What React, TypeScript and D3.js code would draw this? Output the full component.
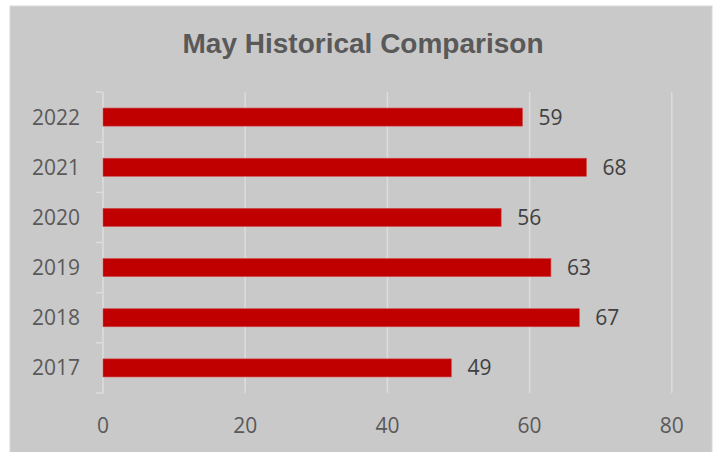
import React from "react";
import * as d3 from "d3";

const categories = ["2022", "2021", "2020", "2019", "2018", "2017"];
const values = [59, 68, 56, 63, 67, 49];
const xTicks = [0, 20, 40, 60, 80];
const title = "May Historical Comparison";

export default function App() {
  const W = 715, H = 452;
  const left = 103, right = 671.8, top = 92, bottom = 393;
  const x = d3.scaleLinear().domain([0, 80]).range([left, right]);
  const y = d3.scaleBand<string>().domain(categories).range([top, bottom]).paddingInner(0.64).paddingOuter(0.32);
  const step = (bottom - top) / categories.length;
  const bounds = d3.range(categories.length + 1).map((i) => top + i * step);
  const font = "'Open Sans', 'Noto Sans', sans-serif";
  return (
    <svg width={W} height={H} style={{ position: "absolute", left: 0, top: 0, display: "block" }}>
      <rect x={0} y={0} width={W} height={H} fill="#ffffff" />
      <rect x={10} y={6} width={702} height={H} fill="#c9c9c9" stroke="#d9d9d9" strokeWidth={1} />
      <text x={363} y={53} textAnchor="middle" fontFamily="'Liberation Sans', Arial, sans-serif" fontWeight="bold" fontSize={28} fill="#595959">
        {title}
      </text>
      {xTicks.map((t) => (
        <line key={"g" + t} x1={x(t)} x2={x(t)} y1={top} y2={bottom} stroke="#dcdcdc" strokeWidth={1.5} />
      ))}
      {bounds.map((b, i) => (
        <line key={"t" + i} x1={96} x2={x(0)} y1={b} y2={b} stroke="#dcdcdc" strokeWidth={1.5} />
      ))}
      {categories.map((c, i) => (
        <g key={c}>
          <rect x={x(0)} y={y(c)!} width={x(values[i]) - x(0)} height={y.bandwidth()} fill="#c00000" stroke="#d14a4a" strokeWidth={0.6} />
          <text x={x(values[i]) + 16} y={y(c)! + y.bandwidth() / 2} dy="0.36em" fontFamily={font} fontSize={21} fill="#404040">
            {values[i]}
          </text>
          <text x={80} y={y(c)! + y.bandwidth() / 2} dy="0.36em" textAnchor="end" fontFamily={font} fontSize={21} fill="#595959">
            {c}
          </text>
        </g>
      ))}
      {xTicks.map((t) => (
        <text key={"l" + t} x={x(t)} y={433} textAnchor="middle" fontFamily={font} fontSize={21} fill="#595959">
          {t}
        </text>
      ))}
    </svg>
  );
}
